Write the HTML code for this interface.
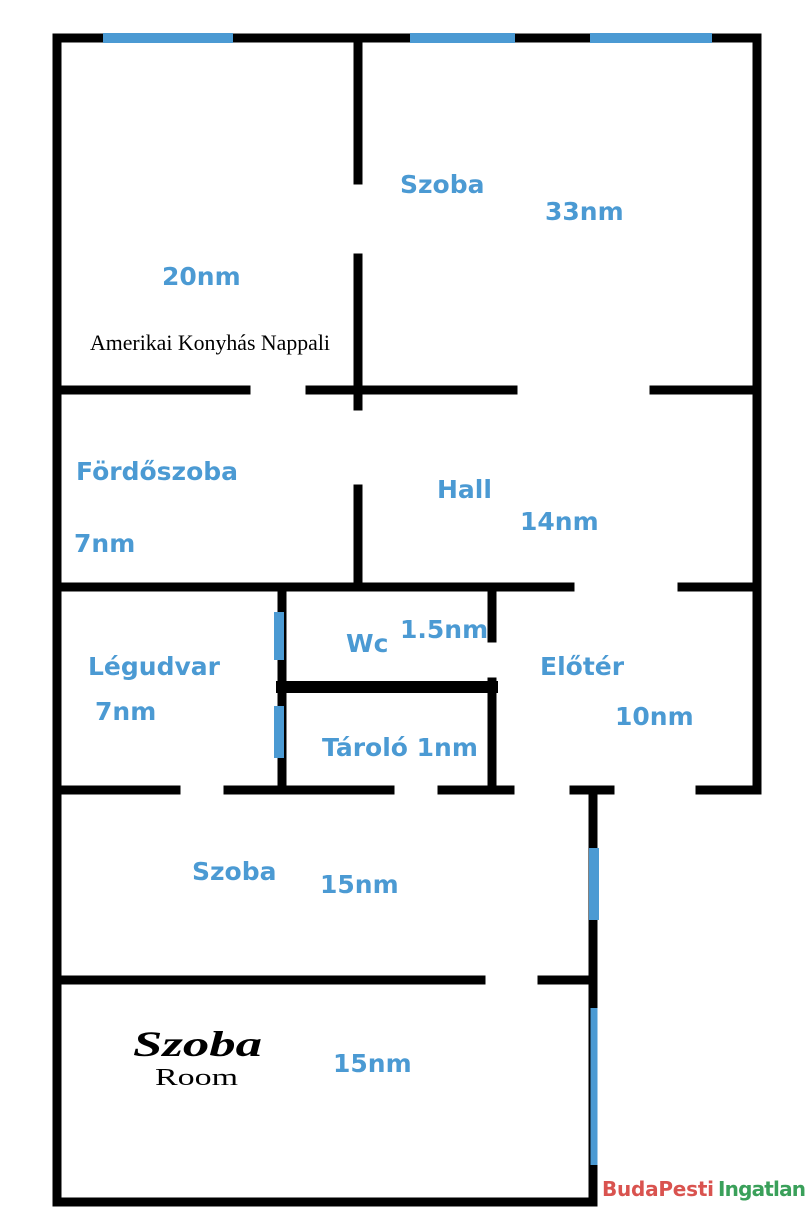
<!DOCTYPE html>
<html><head><meta charset="utf-8"><style>
body{margin:0;background:#fff;}
svg{display:block}
.b{font-family:"DejaVu Sans","Liberation Sans",sans-serif;font-weight:bold;font-size:25px;fill:#4b9ad3;}
</style></head><body>
<svg width="812" height="1212" viewBox="0 0 812 1212" xmlns="http://www.w3.org/2000/svg">
<g stroke="#000" stroke-width="9" fill="none" stroke-linecap="square">
<line x1="57" y1="38" x2="757" y2="38"/>
<line x1="57" y1="38" x2="57" y2="1202"/>
<line x1="57" y1="1202" x2="593" y2="1202"/>
<line x1="757" y1="38" x2="757" y2="785"/>
<line x1="358" y1="38" x2="358" y2="180"/>
<line x1="358" y1="258" x2="358" y2="406"/>
<line x1="57" y1="390" x2="246" y2="390"/>
<line x1="310" y1="390" x2="513" y2="390"/>
<line x1="654" y1="390" x2="757" y2="390"/>
<line x1="358" y1="489" x2="358" y2="583"/>
<line x1="57" y1="587" x2="570" y2="587"/>
<line x1="682" y1="587" x2="757" y2="587"/>
<line x1="282" y1="587" x2="282" y2="790"/>
<line x1="492" y1="587" x2="492" y2="638"/>
<line x1="492" y1="682" x2="492" y2="785"/>
<line x1="282" y1="687" x2="492" y2="687" stroke-width="12"/>
<line x1="57" y1="790" x2="176" y2="790"/>
<line x1="228" y1="790" x2="390" y2="790"/>
<line x1="442" y1="790" x2="510" y2="790"/>
<line x1="574" y1="790" x2="610" y2="790"/>
<line x1="700" y1="790" x2="757" y2="790"/>
<line x1="593" y1="790" x2="593" y2="1202"/>
<line x1="57" y1="980" x2="481" y2="980"/>
<line x1="542" y1="980" x2="593" y2="980"/>
</g>
<g stroke="#4b9ad3" stroke-width="10">
<line x1="103" y1="38" x2="233" y2="38"/>
<line x1="410" y1="38" x2="515" y2="38"/>
<line x1="590" y1="38" x2="712" y2="38"/>
<line x1="279" y1="612" x2="279" y2="660"/>
<line x1="279" y1="706" x2="279" y2="758"/>
<line x1="594" y1="848" x2="594" y2="920"/>
<line x1="594" y1="1008" x2="594" y2="1165" stroke-width="7"/>
</g>
<text class="b" x="400" y="193">Szoba</text>
<text class="b" x="545" y="220">33nm</text>
<text class="b" x="162" y="285">20nm</text>
<text x="90" y="350" font-family="Liberation Serif,serif" font-size="22" textLength="240" lengthAdjust="spacingAndGlyphs">Amerikai Konyhás Nappali</text>
<text class="b" x="76" y="480">Fördőszoba</text>
<text class="b" x="74" y="552">7nm</text>
<text class="b" x="437" y="498">Hall</text>
<text class="b" x="520" y="530">14nm</text>
<text class="b" x="346" y="652">Wc</text>
<text class="b" x="400" y="638">1.5nm</text>
<text class="b" x="88" y="675">Légudvar</text>
<text class="b" x="95" y="720">7nm</text>
<text class="b" x="540" y="675">Előtér</text>
<text class="b" x="615" y="725">10nm</text>
<text class="b" x="322" y="756">Tároló 1nm</text>
<text class="b" x="192" y="880">Szoba</text>
<text class="b" x="320" y="893">15nm</text>
<text x="133" y="1056" font-family="Liberation Serif,serif" font-style="italic" font-weight="bold" font-size="36" textLength="129" lengthAdjust="spacingAndGlyphs">Szoba</text>
<text x="155" y="1085" font-family="Liberation Serif,serif" font-size="24" textLength="83" lengthAdjust="spacingAndGlyphs">Room</text>
<text class="b" x="333" y="1072">15nm</text>
<text x="602" y="1196" font-family="DejaVu Sans,sans-serif" font-size="20" font-weight="bold" fill="#d9534f" textLength="112">BudaPesti</text>
<text x="718" y="1196" font-family="DejaVu Sans,sans-serif" font-size="20" font-weight="bold" fill="#3aa05a" textLength="88">Ingatlan</text>
</svg>
</body></html>
